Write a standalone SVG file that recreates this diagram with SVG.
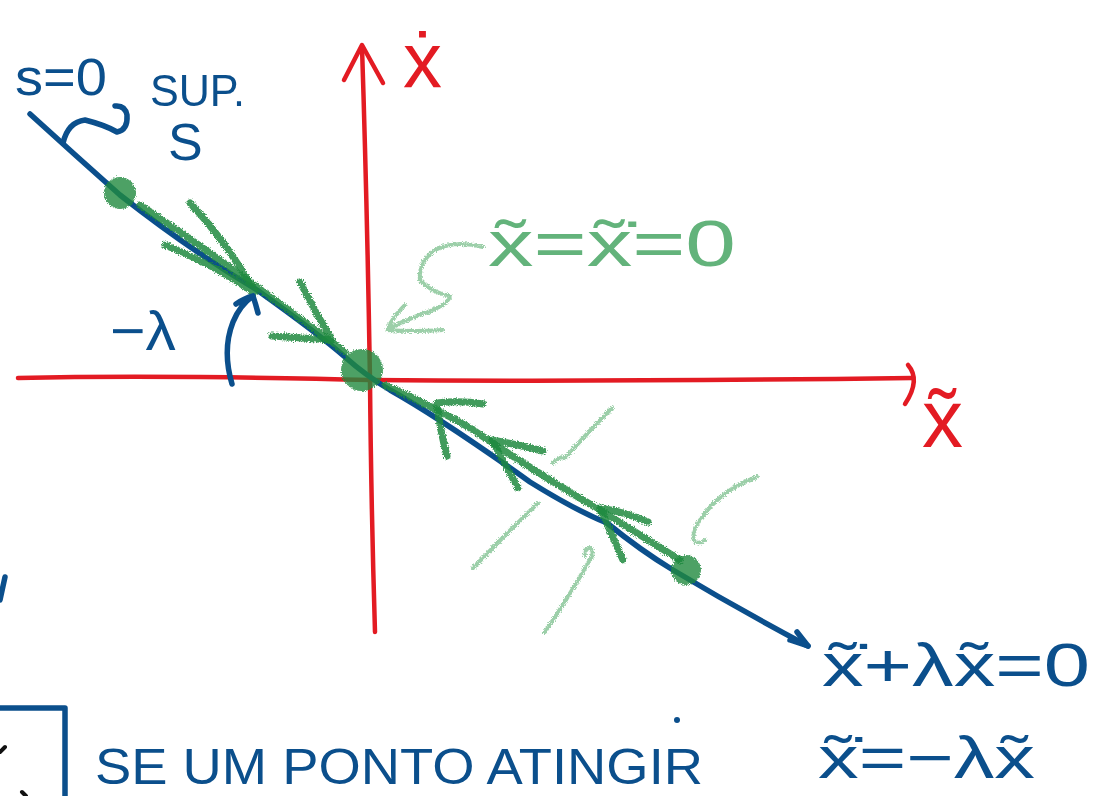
<svg xmlns="http://www.w3.org/2000/svg" width="1099" height="796" viewBox="0 0 1099 796">
<defs>
<filter id="chalk" x="-20%" y="-20%" width="140%" height="140%">
<feTurbulence type="fractalNoise" baseFrequency="0.9" numOctaves="2" seed="3" result="n"/>
<feDisplacementMap in="SourceGraphic" in2="n" scale="5" xChannelSelector="R" yChannelSelector="G" result="d"/>
<feGaussianBlur in="d" stdDeviation="0.6"/>
</filter>
<style>
.red{fill:none;stroke:#e31b23;stroke-width:4.5;stroke-linecap:round;stroke-linejoin:round}
.blue{fill:none;stroke:#0b4f8c;stroke-width:5.5;stroke-linecap:round;stroke-linejoin:round}
.blk{fill:none;stroke:#111;stroke-width:4;stroke-linecap:round}
.g{fill:none;stroke:#1f8a3e;stroke-width:7;stroke-linecap:round;stroke-linejoin:round;opacity:0.85}
.gl{fill:none;stroke:#4aa862;stroke-width:4;stroke-linecap:round;stroke-linejoin:round;opacity:0.55}
.gd{fill:#1f8a3e;opacity:0.8}
.tb{font-family:"Liberation Sans",Arial,sans-serif;fill:#0b4f8c}
.tr{font-family:"Liberation Sans",Arial,sans-serif;fill:#e31b23}
.tg{font-family:"Liberation Sans",Arial,sans-serif;fill:#2f9a4f;opacity:0.75}
</style>
</defs>
<rect width="1099" height="796" fill="#fff"/>

<g id="axes">
<path class="red" d="M18 378 Q100 376 200 377 T370 380 Q600 382 912 378"/>
<path class="red" d="M908 365 Q921 380 905 404"/>
<path class="red" d="M375 632 Q371 500 370 380 Q367 200 362 47"/>
<path class="red" d="M344 80 L362 45 L383 83"/>
</g>

<g id="surface-line">
<path class="blue" d="M30 114 Q75 155 120 195 Q190 250 257 290 Q320 335 345 357 Q365 375 390 390 Q440 418 530 482 Q575 510 607 523 Q640 550 673 570 Q740 610 808 646"/>
<path class="blue" d="M797 632 L808 646 L790 640"/>
</g>

<g id="green-field" filter="url(#chalk)">
<circle class="gd" cx="120" cy="193" r="16"/>
<circle class="gd" cx="362" cy="370" r="21"/>
<circle class="gd" cx="686" cy="570" r="15"/>
<path class="g" d="M140 205 Q200 245 250 282 Q300 318 345 352"/>
<path class="g" d="M190 203 Q225 240 255 292 M165 245 Q215 265 253 292"/>
<path class="g" d="M300 282 Q315 312 332 340 M272 336 Q300 338 332 340"/>
<path class="g" d="M385 385 Q430 405 470 428 Q540 475 600 510 Q640 535 680 560"/>
<path class="g" d="M437 403 Q460 400 483 404 M437 405 Q440 430 447 456"/>
<path class="g" d="M492 440 Q520 445 543 451 M492 440 Q505 465 518 488"/>
<path class="g" d="M600 508 Q625 512 648 522 M600 508 Q612 535 623 560"/>
<path class="gl" d="M553 463 Q560 455 565 458 Q590 430 612 408"/>
<path class="gl" d="M473 568 Q505 535 538 503"/>
<path class="gl" d="M545 632 Q570 595 588 563 Q596 552 590 548 Q583 548 585 556"/>
<path class="gl" d="M757 477 Q720 490 700 520 Q690 535 695 542 Q700 544 705 540"/>
<path class="gl" d="M483 247 Q455 240 435 250 Q418 262 420 280 Q430 292 450 296 Q448 305 425 313 Q400 322 387 330 M405 305 Q392 318 387 330 Q415 332 443 330"/>
</g>

<g id="annotations">
<path class="blue" d="M63 143 Q68 122 85 120 Q105 125 117 132 Q128 130 127 115 Q125 105 115 106"/>
<path class="blue" d="M232 384 Q222 350 233 322 Q240 305 253 296 M236 304 Q245 298 253 296 Q256 305 258 313"/>
<path class="blue" d="M0 708 L65 708 L65 796"/>
<path class="blue" d="M5 577 L0 600"/>
<path class="blk" d="M0 752 L5 747 M22 792 L26 796"/>
<circle cx="677" cy="720" r="3" fill="#0b4f8c"/>
</g>

<g id="labels">
<text class="tb" x="15" y="95" font-size="52" textLength="92" lengthAdjust="spacingAndGlyphs">s=0</text>
<text class="tb" x="150" y="106" font-size="44" textLength="95" lengthAdjust="spacingAndGlyphs">SUP.</text>
<text class="tb" x="168" y="160" font-size="52">S</text>
<text class="tb" x="110" y="350" font-size="56" textLength="66" lengthAdjust="spacingAndGlyphs">−λ</text>
<text class="tr" x="403" y="88" font-size="78">ẋ</text>
<text class="tr" x="922" y="447" font-size="82">x̃</text>
<text class="tg" x="488" y="266" font-size="64" textLength="248" lengthAdjust="spacingAndGlyphs">x̃=x̃̇=0</text>
<text class="tb" x="822" y="686" font-size="62" textLength="268" lengthAdjust="spacingAndGlyphs">x̃̇+λx̃=0</text>
<text class="tb" x="818" y="778" font-size="60" textLength="217" lengthAdjust="spacingAndGlyphs">x̃̇=−λx̃</text>
<text class="tb" x="95" y="784" font-size="50" textLength="608" lengthAdjust="spacingAndGlyphs">SE UM PONTO ATINGIR</text>
</g>
</svg>
